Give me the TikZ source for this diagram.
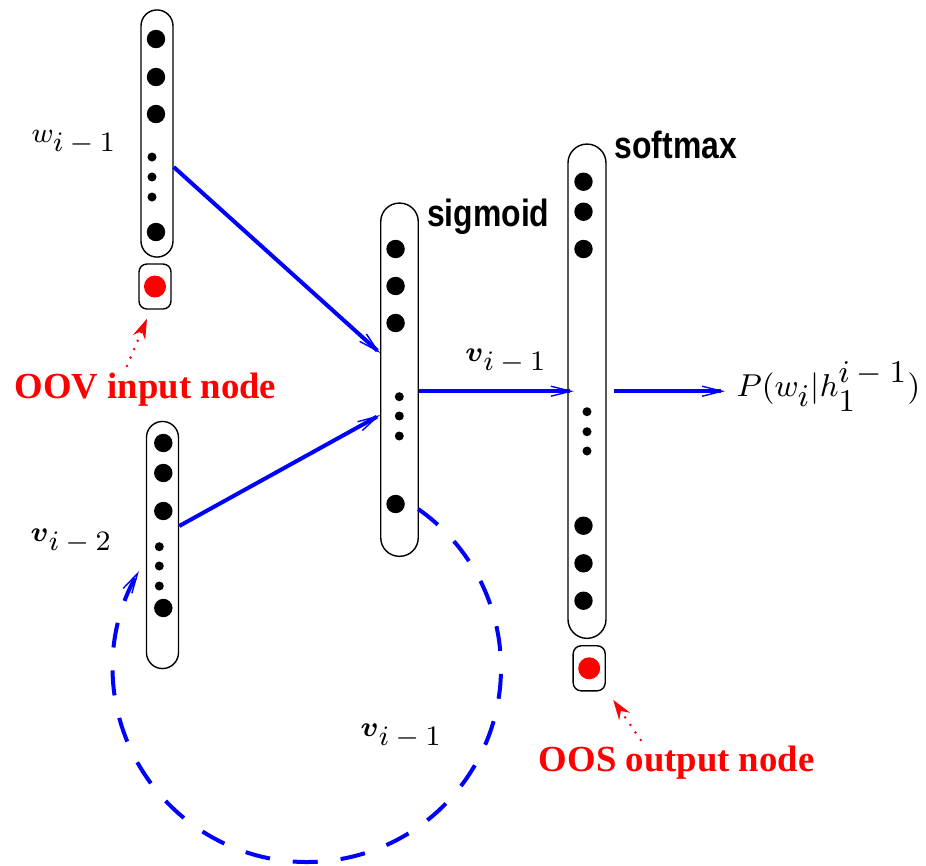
\documentclass[tikz,border=0pt]{standalone}
\usepackage{amsmath,amssymb}
\usepackage{fontspec}
\newfontfamily\notefont{Liberation Serif}
\newfontfamily\actfont[FakeStretch=0.84]{Liberation Sans}
\usetikzlibrary{calc,arrows.meta}
\newcommand{\tsub}[1]{_{\textstyle #1}}
\newcommand{\tsup}[1]{^{\textstyle #1}}

\begin{document}
\begin{tikzpicture}[x=0.01cm, y=-0.01cm,
    layer/.style={draw, line width=0.4pt, rounded corners=0.16cm, minimum width=0.32cm, inner sep=0},
    unk/.style={draw, line width=0.4pt, rounded corners=0.08cm, minimum width=0.32cm, minimum height=0.45cm, inner sep=0},
    lbl/.style={inner sep=0, anchor=base west, font=\fontsize{8.3}{10}\selectfont},
    act/.style={inner sep=0, anchor=base west, font=\fontsize{10.8}{12}\selectfont\actfont\bfseries},
    note/.style={inner sep=0, anchor=base, red, font=\fontsize{10.45}{12}\selectfont\notefont\bfseries},
    link/.style={blue, line width=0.04cm, -{Straight Barb[length=0.2cm, width=0.1cm, line width=0.4pt]}},
    recur/.style={link, dash pattern=on 0.25cm off 0.23cm},
    pointer/.style={red, line width=0.8pt, line cap=round, dash pattern=on 0pt off 2.6pt,
      -{Stealth[length=0.2cm, width=0.13cm, line cap=butt]}}]
    \useasboundingbox (0,0) rectangle (926,866);
    % layers
    \node[layer, minimum height=2.47cm] (wbox) at (157,133.5) {};
    \node[unk] (oovbox) at (155,286.5) {};
    \node[layer, minimum height=2.47cm] (vbox) at (162.5,545) {};
    \node[layer, minimum width=0.375cm, rounded corners=0.185cm, minimum height=3.53cm] (sig) at (399.5,379.7) {};
    \node[layer, minimum width=0.38cm, rounded corners=0.19cm, minimum height=4.94cm] (sm) at (587,391.2) {};
    \node[unk] (oosbox) at (589.2,668.3) {};
    % units
    \foreach \y in {39,77,114,232} \fill (156,\y) circle[radius=0.092cm];
    \foreach \y in {157,177,197} \fill (152,\y) circle[radius=0.045cm];
    \foreach \y in {443,473,511,608} \fill (163.3,\y) circle[radius=0.092cm];
    \foreach \y in {546.7,566,586} \fill (159.3,\y) circle[radius=0.045cm];
    \foreach \y in {249,286,323,504} \fill (395.6,\y) circle[radius=0.092cm];
    \foreach \y in {396.7,416,436} \fill (399.3,\y) circle[radius=0.045cm];
    \foreach \y in {181.7,211.7,249,525.7,563.3,600.7} \fill (583.5,\y) circle[radius=0.092cm];
    \foreach \y in {411.7,431.7,451} \fill (587,\y) circle[radius=0.045cm];
    \fill[red] (oovbox) circle[radius=0.11cm];
    \fill[red] (oosbox) circle[radius=0.11cm];
    % labels
    \node[lbl] (wlbl) at (31,142.3) {$w\tsub{i-1}$};
    \node[lbl] (vlbl) at (30,541.7) {$\boldsymbol{v}\tsub{i-2}$};
    \node[lbl] (hlbl) at (464.7,361.7) {$\boldsymbol{v}\tsub{i-1}$};
    \node[lbl] (rlbl) at (360,736.7) {$\boldsymbol{v}\tsub{i-1}$};
    \node[lbl, font=\fontsize{9.4}{11}\selectfont] (plbl) at (736,396.7) {$P(w\tsub{i}|h\tsub{1}\tsup{i-1})$};
    \node[act] (siglbl) at (426.4,226.7) {sigmoid};
    \node[act] (smlbl) at (614,158.3) {softmax};
    \node[note] (oovlbl) at (145.5,398.3) {OOV input node};
    \node[note] (ooslbl) at (676.7,771.7) {OOS output node};
    % connections
    \draw[link] (wbox.east |- 0,167) -- (sig.west |- 0,353);
    \draw[link] (vbox.east |- 0,526) -- (sig.west |- 0,415);
    \draw[link] (sig.east |- sm.east) -- ($(sm.west)+(6.5,0)$);
    \coordinate (pin) at ($(plbl.west |- sm.east)+(-11,0)$);
    \draw[link] ($(sm.east)+(7,0)$) -- (pin);
    % recurrence
    \coordinate (ctr) at (307,668);
    \draw[recur] (ctr) ++(-55:194) arc[start angle=-55, end angle=210, radius=194];
    % pointers to the extra nodes
    \coordinate (oovtail) at (127,366);
    \coordinate (oostail) at (640.7,740);
    \draw[pointer] (oovtail) -- ($(oovbox.south)+(-8,9)$);
    \draw[pointer] (oostail) -- ($(oosbox.south)+(24,8.3)$);
  \end{tikzpicture}
\end{document}
